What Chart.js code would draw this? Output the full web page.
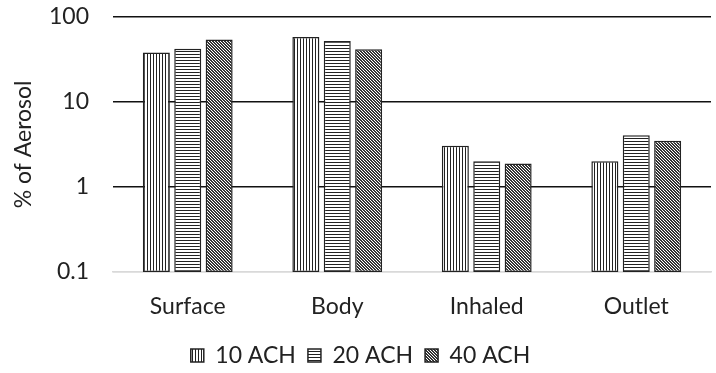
<!DOCTYPE html>
<html>
<head>
<meta charset="utf-8">
<script src="https://cdn.jsdelivr.net/npm/chart.js@4"></script>
<style>
body{margin:0;background:#fff;}
#wrap{width:716px;height:373px;position:relative;}
</style>
</head>
<body>
<div id="wrap"><canvas id="c"></canvas></div>
<script>
const cats=['Surface','Body','Inhaled','Outlet'];
const ach10=[38,58,3.05,2.0];
const ach20=[42,52,2.0,4.05];
const ach40=[54,41.5,1.88,3.5];
const yTicks=[0.1,1,10,100];

/* PATTERNS */
function pat(kind){
let c=document.createElement('canvas');
let x=c.getContext('2d');
c.width=3;c.height=3;
x.fillStyle='#fff';x.fillRect(0,0,3,3);
if(kind=='v'){
x.fillStyle='#222';x.fillRect(0,0,1,3);
}else if(kind=='h'){
x.fillStyle='#222';x.fillRect(0,0,3,1);
}else{
x.fillStyle='#333';
for(let i=0;i<3;i++){x.fillRect(i,i,1,1);x.fillRect((i+1)%3,i,1,1);}
}
return x.createPattern(c,'repeat');
}

const ds=(label,data,k)=>({
label:label,data:data,backgroundColor:pat(k),
borderColor:'#222',borderWidth:1.5,borderSkipped:false,
barPercentage:0.86,categoryPercentage:0.63
});

const F={family:'Lato',size:23};

new Chart(document.getElementById('c'),{
type:'bar',
data:{labels:cats,datasets:[
ds('10 ACH',ach10,'v'),
ds('20 ACH',ach20,'h'),
ds('40 ACH',ach40,'d')
]},
options:{
responsive:true,maintainAspectRatio:false,animation:false,
layout:{padding:{top:0,right:5,left:10,bottom:-4}},
plugins:{
tooltip:{enabled:false},
legend:{position:'bottom',
labels:{font:F,color:'#222',boxWidth:13,boxHeight:13,padding:12}}
},
scales:{
x:{
grid:{display:false},
border:{color:'#d9d9d9',width:1.5},
ticks:{font:F,color:'#222',padding:13},
afterFit:s=>{s.height=60;}
},
y:{
type:'logarithmic',min:0.1,max:100,
afterBuildTicks:a=>{a.ticks=yTicks.map(v=>({value:v}));},
afterFit:s=>{s.width=103;},
grid:{drawTicks:true,tickLength:21,tickColor:'rgba(0,0,0,0)',lineWidth:1.5,
color:c=>c.tick&&c.tick.value==0.1?'#d9d9d9':'#111'},
border:{display:false},
title:{display:true,text:'% of Aerosol',font:F,color:'#222',padding:{top:0,bottom:0}},
ticks:{font:F,color:'#222',padding:3,callback:v=>String(v)}
}
}
}
});
</script>
</body>
</html>
